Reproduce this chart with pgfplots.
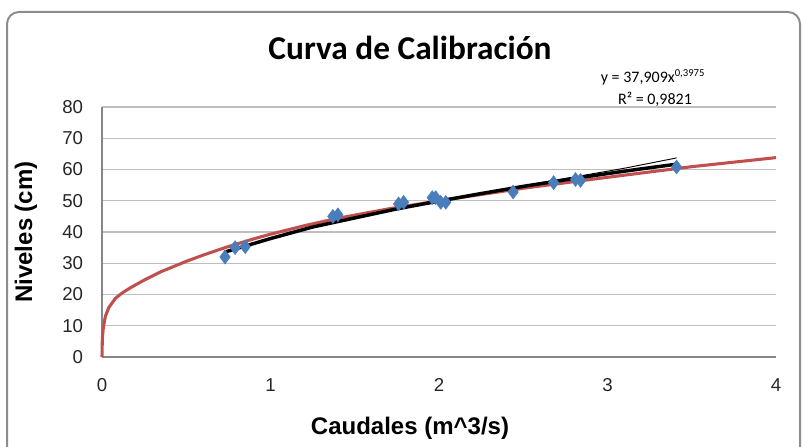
\documentclass[border=0pt]{standalone}
\usepackage{pgfplots}
\pgfplotsset{compat=1.18}
\usepackage{fontspec}
\setmainfont{Liberation Sans}
\newfontfamily\calibri{Carlito}
\definecolor{ptblue}{RGB}{74,126,187}
\definecolor{ptred}{RGB}{192,80,77}
\definecolor{gridgray}{RGB}{190,190,190}
\definecolor{axgray}{RGB}{134,134,134}
\definecolor{bordergray}{RGB}{140,140,140}
\begin{document}
\begin{tikzpicture}[x=0.75pt,y=0.75pt]
\path[use as bounding box] (0,0) rectangle (802,446);
\draw[bordergray, line width=1.5pt, rounded corners=9pt] (7,434) rectangle (800,-20);
\begin{axis}[
  at={(76.5pt,66.75pt)}, anchor=south west,
  scale only axis, width=505.5pt, height=187.5pt,
  xmin=0, xmax=4, ymin=0, ymax=80,
  xtick={0,1,2,3,4}, ytick={0,10,...,80},
  axis x line=bottom, axis y line=left,
  axis line style={axgray, line width=0.9pt, -},
  major tick length=0pt,
  ymajorgrids, grid style={gridgray, line width=0.9pt},
  /pgf/number format/assume math mode=true,
  ticklabel style={font=\fontsize{14}{16}\selectfont, text=black!85},
  yticklabel style={anchor=east, inner sep=0pt, xshift=-14pt},
  xticklabel style={anchor=north, inner sep=0pt, yshift=-16pt},
  clip=false,
]
% fitted (red) curve
\addplot[ptred, line width=2.3pt] coordinates {
(0,0) (0.002,6) (0.008,9.5) (0.02,13) (0.04,15.8) (0.08,18.8) (0.12,20.5)
(0.17,22.2) (0.25,24.6) (0.35,27.3) (0.5,30.6) (0.6,32.6) (0.73,35.0)
(0.9,37.8) (1.0,39.3) (1.2,42.0) (1.4,44.4) (1.7,47.4) (2.0,50.0)
(2.5,54.0) (3.0,57.5) (3.5,60.9) (4.0,63.8)};
% measured points
\addplot[only marks, mark=diamond*, mark size=5.2pt, ptblue, mark options={fill=ptblue, draw=ptblue}] coordinates {
(0.73,32.0) (0.79,35.0) (0.85,35.3) (1.37,45.0) (1.40,45.5)
(1.76,49.0) (1.79,49.5) (1.96,51.0) (1.98,51.0) (2.01,49.5) (2.04,49.5)
(2.44,52.8) (2.68,55.8) (2.81,56.8) (2.84,56.5) (3.41,60.8)};
% thin trend line
\addplot[black, line width=0.7pt] coordinates {
(0.75,33.9) (1.0,38.0) (1.5,44.7) (2.0,50.1) (2.5,54.8) (2.8,57.6) (3.1,60.4) (3.41,63.7)};
% power trend line
\addplot[black, line width=2.6pt] coordinates {
(0.73,33.6) (0.9,36.3) (1.0,37.9) (1.25,41.6) (1.5,44.5) (1.75,47.4) (2.0,49.9)
(2.25,52.3) (2.5,54.6) (2.75,56.7) (3.0,58.7) (3.2,60.2) (3.41,61.7)};
\end{axis}
\node[font=\calibri\bfseries\fontsize{25}{28}\selectfont] at (410,398) {Curva de Calibración};
\node[font=\calibri\fontsize{12}{14}\selectfont] at (653,369) {y = 37,909x\textsuperscript{0,3975}};
\node[font=\calibri\fontsize{12}{14}\selectfont] at (655,347) {R² = 0,9821};
\node[font=\bfseries\fontsize{18}{20}\selectfont, rotate=90] at (26,214) {Niveles (cm)};
\node[font=\bfseries\fontsize{18}{20}\selectfont] at (410,18) {Caudales (m\^{}3/s)};
\end{tikzpicture}
\end{document}
